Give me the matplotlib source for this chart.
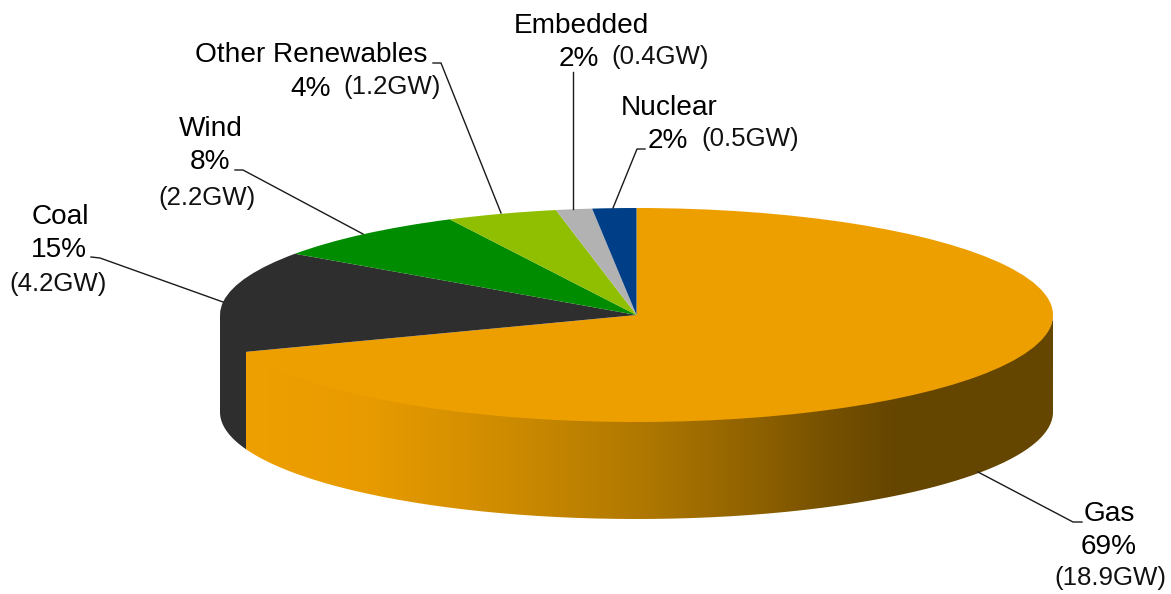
import numpy as np
import matplotlib
matplotlib.use("Agg")
import matplotlib.pyplot as plt
from matplotlib.colors import LinearSegmentedColormap
from matplotlib.lines import Line2D
from matplotlib.patches import PathPatch
from matplotlib.path import Path

# --- data ---
categories = ["Gas", "Coal", "Wind", "Other Renewables", "Embedded", "Nuclear"]
slice_shares = [69.4, 15.3, 7.9, 4.3, 1.4, 1.7]
percent_labels = ["69%", "15%", "8%", "4%", "2%", "2%"]
gw_labels = ["(18.9GW)", "(4.2GW)", "(2.2GW)", "(1.2GW)", "(0.4GW)", "(0.5GW)"]
colors = ["#EE9F00", "#2E2E2E", "#008C00", "#8FBF00", "#B2B2B2", "#003F87"]

# --- layout (pixels of the 1171x594 picture) ---
W, H = 1171, 594
CX, CY, RX, RY, DEPTH = 636.5, 315.0, 416.5, 107.0, 97.0
plt.rcParams["font.family"] = ["Liberation Sans", "DejaVu Sans"]
BIG, SMALL = 20.2, 18.6

name_pos = [(1109, 514), (60, 217), (211, 129), (311, 55), (581, 26), (669, 108)]
pct_pos = [(1109, 547), (59, 250), (210, 162), (311, 89), (579, 59), (668, 141)]
gw_pos = [(1110, 578), (58, 284), (207, 198), (392, 87), (660, 57), (750, 139)]
leaders = [
    [(978, 472), (1073, 522), (1082, 522)],
    [(91, 257), (100, 258), (223, 302)],
    [(235, 170), (243, 170), (363, 234)],
    [(433, 63), (441, 63), (501, 213)],
    [(573, 72), (573, 209)],
    [(645, 149), (637, 149), (613, 208)],
]

fig = plt.figure(figsize=(W / 100, H / 100), dpi=100, facecolor="white")
ax = fig.add_axes([0, 0, 1, 1])

# pie on the unit circle; the axes limits squash it into the perspective ellipse
ax.pie(slice_shares, colors=colors, startangle=90, counterclock=False, radius=1,
       wedgeprops={"linewidth": 0, "zorder": 5})
ax.set_aspect("auto")
xlim = (-CX / RX, (W - CX) / RX)
ylim = ((CY - H) / RY, CY / RY)
depth = DEPTH / RY


def wall_path(a0, a1):
    t = np.radians(np.linspace(a0, a1, 240))
    x, y = np.cos(t), np.sin(t)
    # top arc tucked slightly under the pie so no seam shows along the front edge
    vx = np.r_[x, x[::-1], x[0]]
    vy = np.r_[y * 0.97, y[::-1] - depth, y[0] * 0.97]
    return Path(np.c_[vx, vy])


fractions = np.cumsum(slice_shares) / np.sum(slice_shares)
gas_end = 90 - 360 * fractions[0]
x0 = np.cos(np.radians(gas_end))

# coal side wall (visible left part): closed along the pie's centre line, under the pie
t_coal = np.radians(np.linspace(gas_end + 0.3, -180, 80))
coal_x = np.r_[np.cos(t_coal), -1.0, np.cos(t_coal[0]), np.cos(t_coal[0])]
coal_y = np.r_[np.sin(t_coal) - depth, 0.0, 0.0, np.sin(t_coal[0]) - depth]
ax.add_patch(PathPatch(Path(np.c_[coal_x, coal_y]), fc=colors[1], ec="none", zorder=1))

# gas side wall with horizontal shading
shade = LinearSegmentedColormap.from_list(
    "wall",
    [(0.0, "#EE9F00"), (0.15, "#E89B00"), (0.315, "#CF8C00"), (0.49, "#B07800"),
     (0.65, "#8A5E00"), (0.72, "#765100"), (0.80, "#664600"), (1.0, "#654600")],
)
grad = np.linspace(0, 1, 512).reshape(1, -1)
im = ax.imshow(grad, cmap=shade, extent=(x0, 1.0, -1 - depth, 1), aspect="auto",
               interpolation="bilinear", zorder=2)
clip = PathPatch(wall_path(gas_end, 0), fc="none", ec="none", transform=ax.transData)
ax.add_patch(clip)
im.set_clip_path(clip)

ax.set_xlim(*xlim)
ax.set_ylim(*ylim)
ax.set_xticks([])
ax.set_yticks([])
ax.set_frame_on(False)


def fx(p):
    return p[0] / W, 1 - p[1] / H


for pts in leaders:
    f = [fx(p) for p in pts]
    fig.add_artist(Line2D([a for a, _ in f], [b for _, b in f], color="#1a1a1a",
                          lw=1.0, transform=fig.transFigure, zorder=6))

for name, pct, gw, p0, p1, p2 in zip(categories, percent_labels, gw_labels,
                                     name_pos, pct_pos, gw_pos):
    fig.text(*fx(p0), name, fontsize=BIG, ha="center", va="center", color="#000000")
    fig.text(*fx(p1), pct, fontsize=BIG, ha="center", va="center", color="#000000")
    fig.text(*fx(p2), gw, fontsize=SMALL, ha="center", va="center", color="#111111")

fig.savefig("out.png", dpi=100)
